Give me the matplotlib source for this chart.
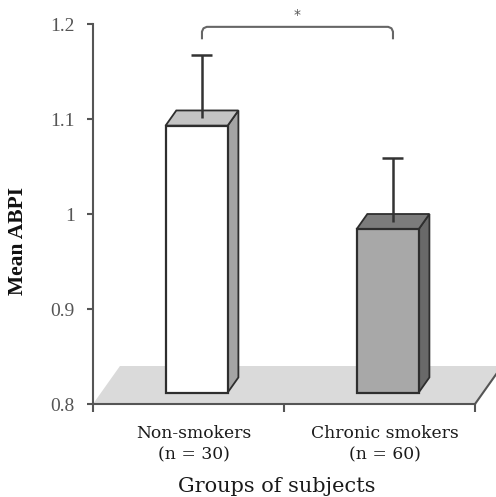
import matplotlib
matplotlib.use('Agg')
import matplotlib.pyplot as plt
from matplotlib.patches import Polygon

# data
groups = ['Non-smokers\n(n = 30)', 'Chronic smokers\n(n = 60)']
means = [1.081, 0.972]
errors = [0.066, 0.067]
y_ticks = [0.8, 0.9, 1.0, 1.1, 1.2]
y_tick_labels = ['0.8', '0.9', '1', '1.1', '1.2']

front_colors = ['#ffffff', '#a8a8a8']
top_colors = ['#c4c4c4', '#7c7c7c']
side_colors = ['#a4a4a4', '#696969']

# pseudo 3D settings (floor depth in data units)
base = 0.8
fdx, fdy = 0.141, 0.04
z0, z1 = 0.3, 0.7
bar_w = 0.325
edge = '#2e2e2e'


def proj(x, y, z):
    return (x + z * fdx, y + z * fdy)


fig = plt.figure(figsize=(4.96, 4.97), dpi=100)
ax = fig.add_axes([0.1875, 0.1871, 0.7702, 0.7646])
ax.set_xlim(0, 2)
ax.set_ylim(0.8, 1.2)

# floor
floor = Polygon([proj(0, base, 0), proj(2, base, 0), proj(2, base, 1), proj(0, base, 1)],
                closed=True, facecolor='#dadada', edgecolor='none', zorder=1, clip_on=False)
ax.add_patch(floor)
ax.plot([proj(2, base, 0)[0], proj(2, base, 1)[0]], [proj(2, base, 0)[1], proj(2, base, 1)[1]],
        color='#555555', lw=1.5, clip_on=False, zorder=2)

cap_w = 0.055
ex = []
for i, (m, err) in enumerate(zip(means, errors)):
    c = i + 0.5
    xl, xr = c - bar_w / 2, c + bar_w / 2
    side = Polygon([proj(xr, base, z0), proj(xr, base, z1), proj(xr, m, z1), proj(xr, m, z0)],
                   closed=True, facecolor=side_colors[i], edgecolor=edge, lw=1.3, zorder=3)
    top = Polygon([proj(xl, m, z0), proj(xr, m, z0), proj(xr, m, z1), proj(xl, m, z1)],
                  closed=True, facecolor=top_colors[i], edgecolor=edge, lw=1.3, zorder=3)
    front = Polygon([proj(xl, base, z0), proj(xr, base, z0), proj(xr, m, z0), proj(xl, m, z0)],
                    closed=True, facecolor=front_colors[i], edgecolor=edge, lw=1.6, zorder=4)
    for p in (side, top, front):
        ax.add_patch(p)
    # upper error bar from the centre of the top face
    x_e, y_e = proj(c, m, 0.5)
    ax.vlines(x_e, y_e, y_e + err, color='#333333', lw=1.8, zorder=5)
    ax.hlines(y_e + err, x_e - cap_w, x_e + cap_w, color='#333333', lw=1.8, zorder=5)
    ex.append((x_e, y_e + err))

# significance bracket
x1, x2 = ex[0][0], ex[1][0]
yb, yt = 1.185, 1.197
ax.plot([x1, x1, x1 + 0.008, x1 + 0.025, x2 - 0.025, x2 - 0.008, x2, x2],
        [yb, yt - 0.005, yt - 0.0015, yt, yt, yt - 0.0015, yt - 0.005, yb],
        color='#666666', lw=1.5, clip_on=False, zorder=5)
ax.text((x1 + x2) / 2, 1.209, '*', ha='center', va='center', fontsize=10,
        color='#555555', clip_on=False)

# axes styling
for s in ['top', 'right']:
    ax.spines[s].set_visible(False)
ax.spines['left'].set_color('#555555')
ax.spines['left'].set_linewidth(1.5)
ax.spines['bottom'].set_color('#555555')
ax.spines['bottom'].set_linewidth(1.5)
ax.spines['bottom'].set_zorder(2)

ax.set_yticks(y_ticks, y_tick_labels)
ax.tick_params(axis='y', direction='out', length=4, width=1.5, color='#555555',
               pad=9, labelsize=14, labelcolor='#555555')
for lbl in ax.get_yticklabels():
    lbl.set_fontfamily('Liberation Serif')

ax.set_xticks([0, 1, 2], ['', '', ''])
ax.tick_params(axis='x', which='major', direction='out', length=6, width=1.5, color='#555555')
ax.set_xticks([c + 0.5 + 0.2 * fdx for c in range(len(groups))], groups, minor=True)
ax.tick_params(axis='x', which='minor', length=0, pad=15, labelsize=12.3, labelcolor='#1a1a1a')
for lbl in ax.get_xticklabels(minor=True):
    lbl.set_fontfamily('DejaVu Serif')
    lbl.set_linespacing(1.35)

fig.text(0.036, 1 - 241 / 497, 'Mean ABPI', rotation=90, ha='center', va='center',
         fontsize=15.5, fontweight='bold', family='Liberation Serif', color='#111111')
fig.text(277 / 496, 1 - 487 / 497, 'Groups of subjects', ha='center', va='center',
         fontsize=15, family='DejaVu Serif', color='#1a1a1a')

fig.savefig('out.png', dpi=100)
